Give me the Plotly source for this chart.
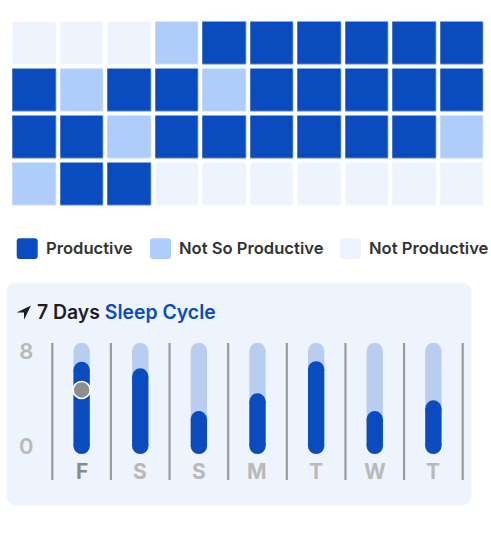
import plotly.graph_objects as go

W, H = 491, 560

# ---------------- data ----------------
status_names = ["Not Productive", "Not So Productive", "Productive"]
status_colors = ["#edf4fe", "#afcdfb", "#0a4cbf"]
grid = [
    ["N", "N", "N", "S", "P", "P", "P", "P", "P", "P"],
    ["P", "S", "P", "P", "S", "P", "P", "P", "P", "P"],
    ["P", "P", "S", "P", "P", "P", "P", "P", "P", "S"],
    ["S", "P", "P", "N", "N", "N", "N", "N", "N", "N"],
]
code = {"N": 0, "S": 1, "P": 2}
legend_order = ["Productive", "Not So Productive", "Not Productive"]

days = ["F", "S", "S", "M", "T", "W", "T"]
sleep_hours = [6.4, 5.85, 2.25, 3.75, 6.45, 2.25, 3.15]
sleep_max = 8
marker_day = 0
marker_value = 4.72
y_ticks = [0, 8]
title_a = "7 Days"
title_b = "Sleep Cycle"

# ---------------- helpers ----------------
def px(x):
    return x / W

def py(y):
    return 1 - y / H

def rrect(x0, y0, x1, y1, r):
    pts = [
        ("M", [(x0 + r, y0)]),
        ("L", [(x1 - r, y0)]),
        ("Q", [(x1, y0), (x1, y0 + r)]),
        ("L", [(x1, y1 - r)]),
        ("Q", [(x1, y1), (x1 - r, y1)]),
        ("L", [(x0 + r, y1)]),
        ("Q", [(x0, y1), (x0, y1 - r)]),
        ("L", [(x0, y0 + r)]),
        ("Q", [(x0, y0), (x0 + r, y0)]),
    ]
    s = ""
    for cmd, ps in pts:
        s += cmd + " " + " ".join(f"{px(a):.5f},{py(b):.5f}" for a, b in ps) + " "
    return s + "Z"

fig = go.Figure()

# ---------------- heatmap ----------------
z = [[code[c] for c in row] for row in grid]
text = [[status_names[code[c]] for c in row] for row in grid]
fig.add_trace(go.Heatmap(
    z=z, text=text, hoverinfo="text",
    x=list(range(10)), y=list(range(4)),
    zmin=0, zmax=2,
    colorscale=[[0, status_colors[0]], [0.5, status_colors[1]], [1, status_colors[2]]],
    showscale=False, xgap=4.3, ygap=4.3,
    xaxis="x", yaxis="y",
))

# ---------------- sleep bars ----------------
xs = list(range(len(days)))
for i in xs:
    fig.add_trace(go.Scatter(
        x=[i, i], y=[0, sleep_max], mode="lines+markers",
        line=dict(color="#b9cdf0", width=16.3),
        marker=dict(color="#b9cdf0", size=16.3),
        hoverinfo="skip", showlegend=False, xaxis="x2", yaxis="y2",
    ))
for i, v in zip(xs, sleep_hours):
    fig.add_trace(go.Scatter(
        x=[i, i], y=[0, v], mode="lines+markers",
        line=dict(color="#0a4cbf", width=16.3),
        marker=dict(color="#0a4cbf", size=16.3),
        hovertemplate=f"{days[i]}: {v} h<extra></extra>",
        showlegend=False, xaxis="x2", yaxis="y2",
    ))
fig.add_trace(go.Scatter(
    x=[marker_day], y=[marker_value], mode="markers",
    marker=dict(color="#8e8e8e", size=17, line=dict(color="white", width=1.5)),
    hoverinfo="skip", showlegend=False, xaxis="x2", yaxis="y2",
))

shapes = []
annotations = []

# panel background
shapes.append(dict(type="path", xref="paper", yref="paper", layer="below",
                   path=rrect(6.7, 280, 471.5, 505, 11),
                   fillcolor="#eef4fe", line=dict(width=0)))

# separators
for k in range(len(days) + 1):
    shapes.append(dict(type="line", xref="x2", yref="y2 domain",
                       x0=k - 0.5, x1=k - 0.5, y0=0, y1=1,
                       line=dict(color="#9a9a9a", width=2.2)))

# arrow icon
arrow = [(31, 303.3), (16.7, 310.2), (24, 310.2), (24, 317.7)]
shapes.append(dict(type="path", xref="paper", yref="paper",
                   path="M " + " L ".join(f"{px(a):.5f},{py(b):.5f}" for a, b in arrow) + " Z",
                   fillcolor="#1d1d1d", line=dict(width=0)))

# title
annotations.append(dict(
    xref="paper", yref="paper", x=px(35), y=py(309.5), xanchor="left", yanchor="middle",
    showarrow=False,
    text=f"<span style='color:#1d1d1d'>{title_a}</span> <span style='color:#0a4cbf'>{title_b}</span>",
    font=dict(family="Inter", size=19.4, weight=600),
))

# day labels
for i, d in enumerate(days):
    annotations.append(dict(
        xref="x2", yref="paper", x=i, y=py(471), xanchor="center", yanchor="middle",
        showarrow=False, text=d,
        font=dict(family="Inter", size=21, weight=700,
                  color="#8a8a8a" if i == marker_day else "#b9b9b9"),
    ))

# legend
legend_x = [16.7, 150, 340]
for name, lx in zip(legend_order, legend_x):
    c = status_colors[status_names.index(name)]
    shapes.append(dict(type="path", xref="paper", yref="paper",
                       path=rrect(lx, 235.3, lx + 21, 256.3, 3),
                       fillcolor=c, line=dict(width=0)))
    annotations.append(dict(
        xref="paper", yref="paper", x=px(lx + 27), y=py(245), xanchor="left", yanchor="middle",
        showarrow=False, text=name,
        font=dict(family="Inter", size=16.6, weight=600, color="#333333"),
    ))

# ---------------- layout ----------------
pitch = 58.63
x_left = 52.3 - 0.1 * pitch
x_right = 462.7 + 0.1 * pitch
fig.update_layout(
    width=W, height=H, margin=dict(l=0, r=0, t=0, b=0),
    paper_bgcolor="white", plot_bgcolor="rgba(0,0,0,0)",
    showlegend=False,
    xaxis=dict(domain=[px(10.2), px(485.5)], range=[-0.5, 9.5], visible=False, fixedrange=True),
    yaxis=dict(domain=[py(204.4), py(14.6)], range=[3.5, -0.5], visible=False, fixedrange=True),
    xaxis2=dict(domain=[px(x_left), px(x_right)], range=[-0.6, len(days) - 0.4],
                showgrid=False, zeroline=False, showticklabels=False, showline=False,
                fixedrange=True, anchor="y2"),
    yaxis2=dict(domain=[py(479.3), py(341)], range=[-2.87, 8.67],
                tickvals=y_ticks, ticktext=[str(t) for t in y_ticks],
                showgrid=False, zeroline=False, showline=False, ticks="",
                tickfont=dict(family="Inter", size=22, weight=600, color="#b9b9b9"),
                ticklabelstandoff=12, fixedrange=True, anchor="x2"),
    shapes=shapes, annotations=annotations,
)

fig.write_html("out.html")
